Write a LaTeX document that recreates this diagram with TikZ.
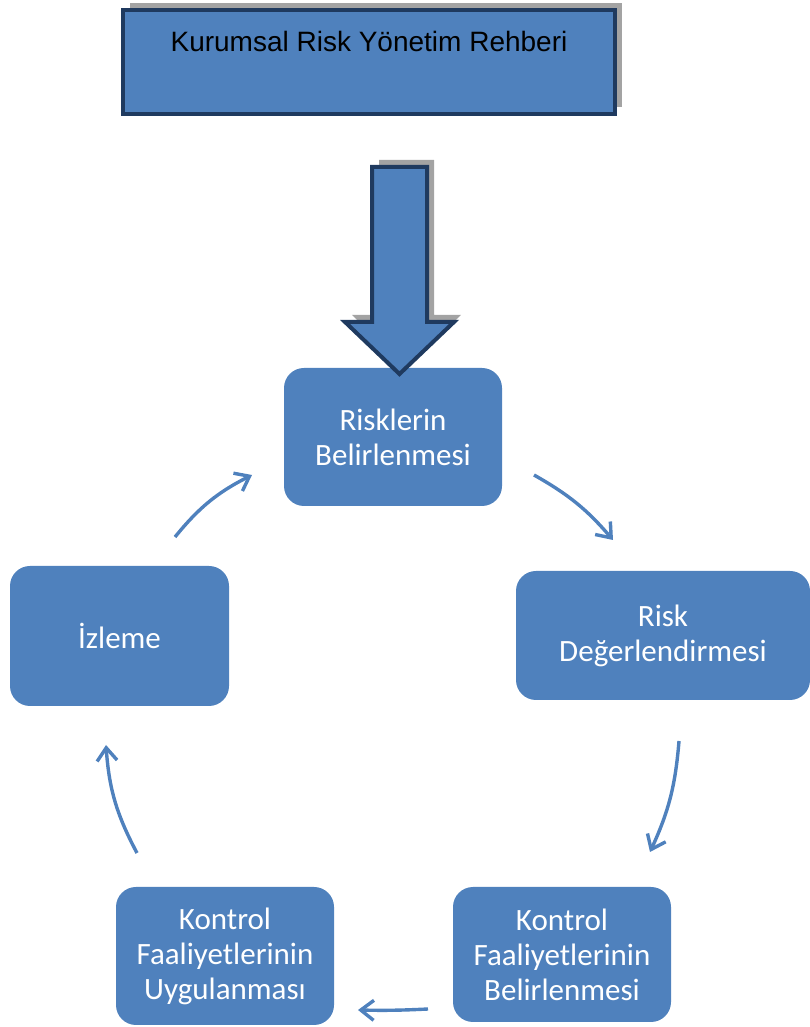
\documentclass[tikz,border=0pt]{standalone}
\usepackage{fontspec}
\setmainfont{Carlito}
\newfontfamily\titlefont{Liberation Sans}
\usepackage{xcolor}
\usetikzlibrary{arrows.meta,shadows}
\definecolor{Steel}{HTML}{4F81BD}
\definecolor{Navy}{HTML}{1F3A5F}
\definecolor{Shade}{HTML}{A3A3A3}

\begin{document}
\begin{tikzpicture}[x=1pt,y=1pt,
  stepbox/.style={rounded corners=20pt,fill=Steel,text=white,align=center,inner sep=0pt,
    font=\fontsize{31}{35}\selectfont},
  boxshadow/.style={drop shadow={shadow xshift=7pt,shadow yshift=7pt,fill=Shade,opacity=1}},
  cycle/.style={-{Straight Barb[length=13pt,width=20pt]},line width=3.4pt,Steel}]
  \useasboundingbox (0,0) rectangle (810,1027);
  % guide on top
  \node[draw=Navy,line width=4pt,fill=Steel,boxshadow,minimum width=492pt,
    inner ysep=0pt,text height=42pt,text depth=62pt,
    font=\titlefont\fontsize{28}{32}\selectfont] (guide) at (369,965) {Kurumsal Risk Yönetim Rehberi};
  % the five steps
  \node[stepbox,minimum width=218pt,minimum height=138pt] (bel) at (393,590) {Risklerin\\Belirlenmesi};
  \node[stepbox,minimum width=294pt,minimum height=129pt] (deg) at (663,391.5) {Risk\\Değerlendirmesi};
  \node[stepbox,minimum width=219pt,minimum height=140pt] (izl) at (119.5,391) {İzleme};
  \node[stepbox,minimum width=218pt,minimum height=135pt] (kfb) at (562,72.5) {Kontrol\\Faaliyetlerinin\\Belirlenmesi};
  \node[stepbox,minimum width=218pt,minimum height=138pt] (kfu) at (225,71) {Kontrol\\Faaliyetlerinin\\Uygulanması};
  % big arrow
  \draw[draw=Navy,line width=4pt,fill=Steel,line join=miter,boxshadow]
    (372,860) -- (427,860) -- (427,705) -- (454,705) -- (399.5,653) -- (345,705) -- (372,705) -- cycle;
  % cycle arrows
  \coordinate (a1s) at (175,490);  \coordinate (a1e) at (252,552);
  \coordinate (a2s) at (534,552);  \coordinate (a2e) at (613,487);
  \coordinate (a3s) at (679,286);  \coordinate (a3e) at (650,175);
  \coordinate (a4s) at (428,18);   \coordinate (a4e) at (358,17);
  \coordinate (a5s) at (137,174);  \coordinate (a5e) at (106,282);
  \draw[cycle] (a1s) to[bend left=12] (a1e);
  \draw[cycle] (a2s) to[bend left=10] (a2e);
  \draw[cycle] (a3s) to[bend left=10] (a3e);
  \draw[cycle] (a4s) to[bend left=2] (a4e);
  \draw[cycle] (a5s) to[bend left=12] (a5e);
\end{tikzpicture}
\end{document}
